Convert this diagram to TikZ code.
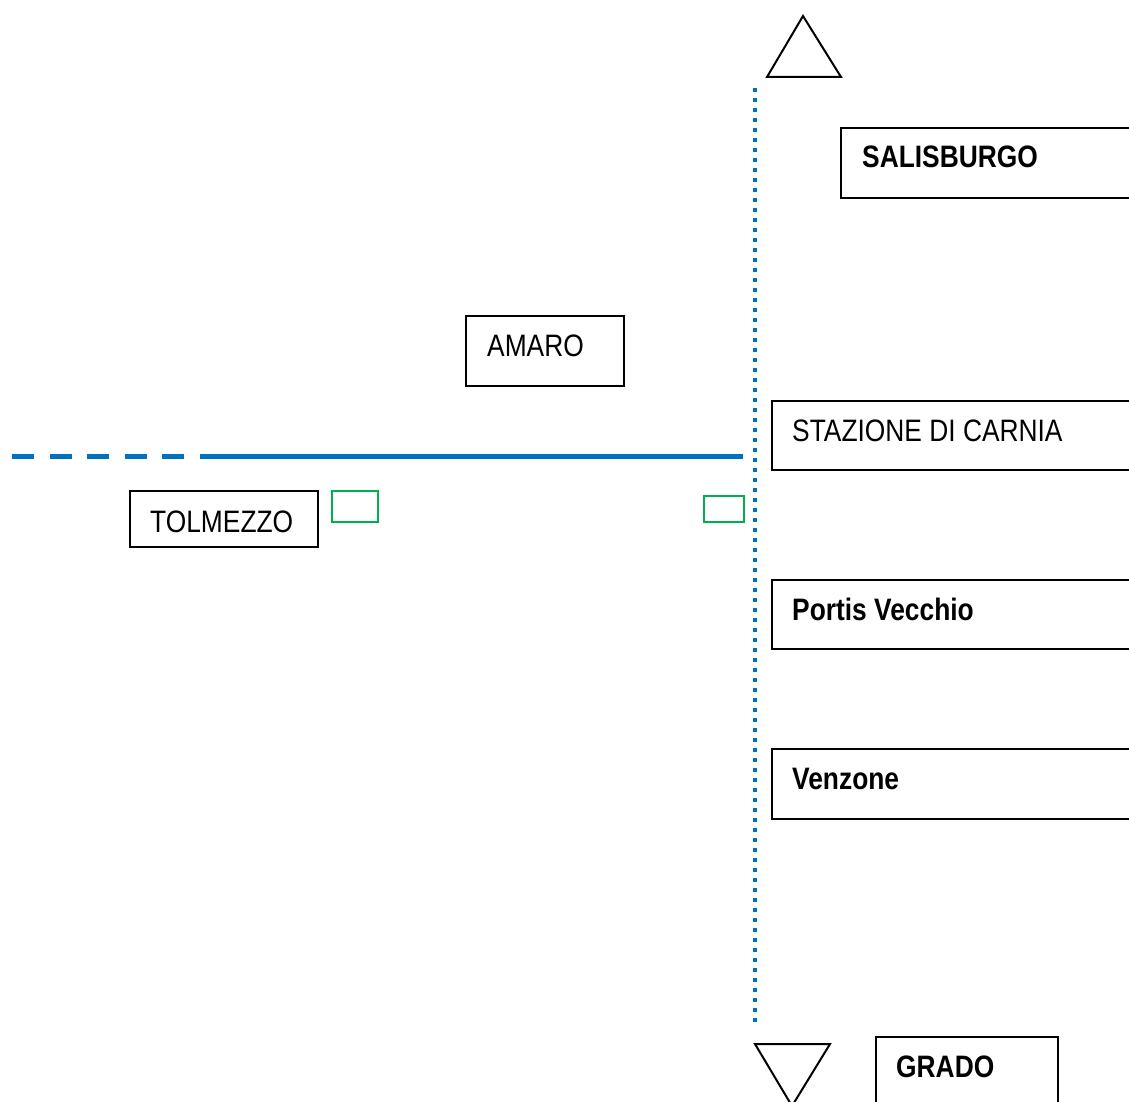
\documentclass[tikz,border=0pt]{standalone}
\usepackage{fontspec}
\setmainfont{Liberation Sans}[FakeStretch=0.85]
\definecolor{lineblue}{RGB}{0,112,192}
\definecolor{boxgreen}{RGB}{0,176,80}
\begin{document}
\begin{tikzpicture}[x=1pt,y=-1pt,
  stationbox/.style={draw=black,line width=2pt,rectangle,inner sep=0pt,anchor=north west},
  label/.style={anchor=base west,inner sep=0pt,font=\fontsize{31}{36}\selectfont},
  boldlabel/.style={label,font=\fontsize{31}{36}\selectfont\bfseries},
  greenbox/.style={draw=boxgreen,line width=2pt,rectangle,inner sep=0pt,anchor=north west},
  arrowtri/.style={draw=black,line width=2pt,line join=miter}]
\clip (0,0) rectangle (1129,1102);
\fill[white] (0,0) rectangle (1129,1102);
% vertical dotted line
\coordinate (vtop) at (755,88);
\coordinate (vbot) at (755,1022);
\draw[lineblue,line width=4pt,dash pattern=on 4pt off 6pt] (vtop) -- (vbot);
% horizontal line
\coordinate (hdashA) at (12,456);
\coordinate (hdashB) at (184,456);
\coordinate (hsolA) at (200,456);
\coordinate (hsolB) at (743,456);
\draw[lineblue,line width=5pt,dash pattern=on 22pt off 15.5pt] (hdashA) -- (hdashB);
\draw[lineblue,line width=5pt] (hsolA) -- (hsolB);
% triangles
\coordinate (tA) at (803,16);
\coordinate (tB) at (767,77);
\coordinate (tC) at (841,77);
\draw[arrowtri] (tA) -- (tB) -- (tC) -- cycle;
\coordinate (bA) at (755,1044);
\coordinate (bB) at (830,1044);
\coordinate (bC) at (792,1106);
\draw[arrowtri] (bA) -- (bB) -- (bC) -- cycle;
% boxes
\node[stationbox,minimum width=320pt,minimum height=70pt] (salisB) at (840,127) {};
\node[boldlabel] (salis) at (862,168) {SALISBURGO};
\node[stationbox,minimum width=158pt,minimum height=70pt] (amaroB) at (465,315) {};
\node[label] (amaro) at (487,356) {AMARO};
\node[stationbox,minimum width=390pt,minimum height=69pt] (carniaB) at (771,400) {};
\node[label] (carnia) at (792,441) {STAZIONE DI CARNIA};
\node[stationbox,minimum width=390pt,minimum height=69pt] (portisB) at (771,579) {};
\node[boldlabel] (portis) at (792,620) {Portis Vecchio};
\node[stationbox,minimum width=390pt,minimum height=70pt] (venzB) at (771,748) {};
\node[boldlabel] (venz) at (792,789) {Venzone};
\node[stationbox,minimum width=182pt,minimum height=90pt] (gradoB) at (875,1036) {};
\node[boldlabel] (grado) at (896,1077) {GRADO};
\node[stationbox,minimum width=188pt,minimum height=56pt] (tolB) at (129,490) {};
\node[label] (tol) at (150,532) {TOLMEZZO};
% green boxes
\node[greenbox,minimum width=46pt,minimum height=31pt] (g1) at (331,490) {};
\node[greenbox,minimum width=40pt,minimum height=26pt] (g2) at (703,495) {};
\end{tikzpicture}
\end{document}
